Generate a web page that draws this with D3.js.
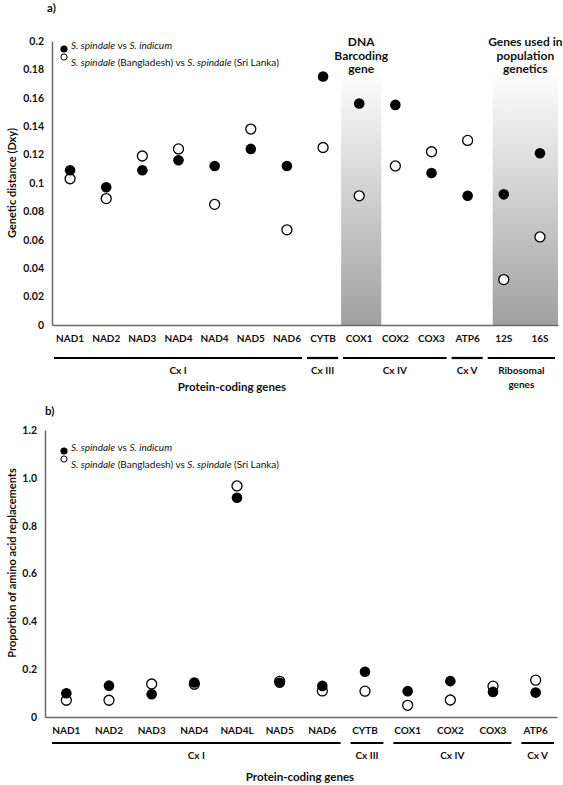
<!DOCTYPE html>
<html><head><meta charset="utf-8">
<script src="https://cdn.jsdelivr.net/npm/d3@7"></script>
<style>body{margin:0;background:#fff}svg{display:block}text{font-family:Lato,"Open Sans",sans-serif;fill:#111}</style>
</head><body><svg id="c" width="563" height="785"></svg>
<script>
// ---- data: panel a ----
const catsA = ["NAD1","NAD2","NAD3","NAD4","NAD4","NAD5","NAD6","CYTB","COX1","COX2","COX3","ATP6","12S","16S"];
const indicumA = [0.109,0.097,0.109,0.116,0.112,0.124,0.112,0.175,0.156,0.155,0.107,0.091,0.092,0.121];
const lankaA   = [0.103,0.089,0.119,0.124,0.085,0.138,0.067,0.125,0.091,0.112,0.122,0.130,0.032,0.062];
const ticksA = [0,0.02,0.04,0.06,0.08,0.1,0.12,0.14,0.16,0.18,0.2];
const tickLabelsA = ["0","0.02","0.04","0.06","0.08","0.1","0.12","0.14","0.16","0.18","0.2"];
const groupsA = [["Cx I",0,6],["Cx III",7,7],["Cx IV",8,10],["Cx V",11,11],["Ribosomal|genes",12,13]];
// ---- data: panel b ----
const catsB = ["NAD1","NAD2","NAD3","NAD4","NAD4L","NAD5","NAD6","CYTB","COX1","COX2","COX3","ATP6"];
const indicumB = [0.099,0.131,0.095,0.144,0.917,0.143,0.130,0.189,0.108,0.150,0.105,0.102];
const lankaB   = [0.070,0.070,0.138,0.137,0.966,0.149,0.109,0.108,0.049,0.071,0.129,0.154];
const ticksB = [0,0.2,0.4,0.6,0.8,1.0,1.2];
const tickLabelsB = ["0","0.2","0.4","0.6","0.8","1.0","1.2"];
const groupsB = [["Cx I",0,6],["Cx III",7,7],["Cx IV",8,10],["Cx V",11,11]];

const svg = d3.select("#c");
const defs = svg.append("defs");
const grad = defs.append("linearGradient").attr("id","shade").attr("x1",0).attr("y1",0).attr("x2",0).attr("y2",1);
grad.append("stop").attr("offset","0%").attr("stop-color","#ffffff");
grad.append("stop").attr("offset","100%").attr("stop-color","#a0a0a0");

function panel(o){
  const x = d3.scaleBand().domain(d3.range(o.cats.length)).range([o.x0,o.x1]);
  const y = d3.scaleLinear().domain([0,o.ymax]).range([o.y0,o.y1]);
  const g = svg.append("g");
  // shading
  (o.shades||[]).forEach(s=>{
    const xs = x(s.from)+s.dl, xe = x(s.to)+x.bandwidth()+s.dr;
    g.append("rect").attr("x",xs).attr("y",o.shadeTop).attr("width",xe-xs).attr("height",o.y0-o.shadeTop).attr("fill","url(#shade)");
    s.lines.forEach((t,i)=>g.append("text").attr("x",(xs+xe)/2).attr("y",o.annY+i*13.5).attr("text-anchor","middle")
      .attr("font-size",12).attr("font-weight","bold").attr("dominant-baseline","middle").text(t));
  });
  // y axis
  const ya = g.append("g").attr("transform",`translate(${o.x0},0)`)
    .call(d3.axisLeft(y).tickValues(o.ticks).tickFormat((d,i)=>o.tickLabels[i]).tickSize(0).tickPadding(8));
  ya.select(".domain").attr("stroke","#6a6a6a").attr("stroke-width",1.5);
  ya.selectAll("text").attr("font-size",10.5).attr("font-weight","bold").attr("fill","#111").attr("font-family","Lato,sans-serif");
  // x axis
  const xa = g.append("g").attr("transform",`translate(0,${o.y0})`)
    .call(d3.axisBottom(x).tickFormat(i=>o.cats[i]).tickSize(0).tickPadding(10).tickSizeOuter(0));
  xa.select(".domain").attr("stroke","#6a6a6a").attr("stroke-width",1.5);
  xa.selectAll("text").attr("font-size",10).attr("font-weight","bold").attr("fill","#111").attr("font-family","Lato,sans-serif");
  // group lines
  o.groups.forEach(([name,a,b])=>{
    const xs = x(a)+o.gl, xe = Math.min(x(b)+x.bandwidth()-o.gr, o.x1+2);
    g.append("line").attr("x1",xs).attr("x2",xe).attr("y1",o.gy).attr("y2",o.gy).attr("stroke","#000").attr("stroke-width",2.2);
    name.split("|").forEach((t,i)=>g.append("text").attr("x",(xs+xe)/2).attr("y",o.gy+13+i*14).attr("text-anchor","middle")
      .attr("font-size",10).attr("font-weight","bold").attr("dominant-baseline","middle").text(t));
  });
  g.append("text").attr("x",o.titleX).attr("y",o.gy+o.titleDy).attr("text-anchor","middle").attr("font-size",11.5)
    .attr("font-weight","bold").attr("dominant-baseline","middle").text("Protein-coding genes");
  // y title
  g.append("text").attr("transform",`translate(13,${o.ytY}) rotate(-90)`).attr("text-anchor","middle")
    .attr("font-size",11).attr("font-weight","bold").attr("dominant-baseline","middle").text(o.ytitle);
  // panel label
  g.append("text").attr("x",o.labX).attr("y",o.labY).attr("font-size",11.5).attr("font-weight","bold").attr("dominant-baseline","middle").text(o.lab);
  // points (open drawn first so filled overlap like reference)
  const cx = i=>x(i)+x.bandwidth()/2;
  g.selectAll(".o").data(o.s2).join("circle").attr("cx",(d,i)=>cx(i)).attr("cy",d=>y(d)).attr("r",5)
    .attr("fill","#fff").attr("stroke","#000").attr("stroke-width",1.3);
  g.selectAll(".f").data(o.s1).join("circle").attr("cx",(d,i)=>cx(i)).attr("cy",d=>y(d)).attr("r",5.3).attr("fill","#000");
  // legend
  const L = g.append("g");
  L.append("circle").attr("cx",64).attr("cy",o.legY+3).attr("r",3.6).attr("fill","#000");
  L.append("circle").attr("cx",64).attr("cy",o.legY+11).attr("r",3.1).attr("fill","#fff").attr("stroke","#000").attr("stroke-width",1);
  const t1 = L.append("text").attr("x",71).attr("y",o.legY).attr("font-size",10).attr("dominant-baseline","middle");
  t1.append("tspan").attr("font-style","italic").text("S. spindale");
  t1.append("tspan").text(" vs ");
  t1.append("tspan").attr("font-style","italic").text("S. indicum");
  const t2 = L.append("text").attr("x",71).attr("y",o.legY+17).attr("font-size",10).attr("dominant-baseline","middle");
  t2.append("tspan").attr("font-style","italic").text("S. spindale");
  t2.append("tspan").text(" (Bangladesh) vs ");
  t2.append("tspan").attr("font-style","italic").text("S. spindale");
  t2.append("tspan").text(" (Sri Lanka)");
}

panel({cats:catsA,s1:indicumA,s2:lankaA,ymax:0.2,ticks:ticksA,tickLabels:tickLabelsA,groups:groupsA,
  x0:52,x1:558,y0:325,y1:41,gy:358,gl:2,gr:3,titleX:232,titleDy:30,ytitle:"Genetic distance (Dxy)",ytY:183,
  lab:"a)",labX:47,labY:9,legY:46,shadeTop:70,annY:43,
  shades:[{from:8,to:8,dl:0,dr:4,lines:["DNA","Barcoding","gene"]},{from:12,to:13,dl:7,dr:0,lines:["Genes used in","population","genetics"]}]});

panel({cats:catsB,s1:indicumB,s2:lankaB,ymax:1.2,ticks:ticksB,tickLabels:tickLabelsB,groups:groupsB,
  x0:45,x1:557,y0:717,y1:430,gy:743,gl:7,gr:3,titleX:300,titleDy:35,ytitle:"Proportion of amino acid replacements",ytY:563,
  lab:"b)",labX:45,labY:412,legY:448,shades:[]});
</script></body></html>
